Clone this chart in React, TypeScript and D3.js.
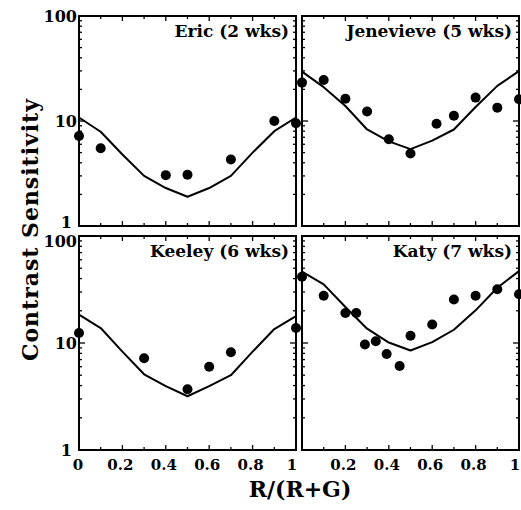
import React from "react";
import * as d3 from "d3";

const modelX = [0, 0.1, 0.2, 0.3, 0.4, 0.5, 0.6, 0.7, 0.8, 0.9, 1.0];

const ericX = [0, 0.1, 0.4, 0.5, 0.7, 0.9, 1.0];
const ericY = [7.2, 5.5, 3.05, 3.08, 4.3, 10.0, 9.5];
const ericModel = [10.8, 7.9, 4.8, 3.0, 2.3, 1.9, 2.3, 3.0, 5.0, 8.0, 10.8];

const jenX = [0, 0.1, 0.2, 0.3, 0.4, 0.5, 0.62, 0.7, 0.8, 0.9, 1.0];
const jenY = [23.2, 24.6, 16.3, 12.3, 6.7, 4.9, 9.4, 11.2, 16.7, 13.4, 16.1];
const jenModel = [29.5, 21, 13.9, 8.3, 6.4, 5.4, 6.5, 8.3, 13.6, 21.6, 29.9];

const keeX = [0, 0.3, 0.5, 0.6, 0.7, 1.0];
const keeY = [12.4, 7.2, 3.7, 6.0, 8.2, 13.8];
const keeModel = [18.4, 13.8, 8.3, 5.1, 3.96, 3.18, 3.96, 5.0, 8.3, 13.5, 17.8];

const katX = [0, 0.1, 0.2, 0.25, 0.29, 0.34, 0.39, 0.45, 0.5, 0.6, 0.7, 0.8, 0.9, 1.0];
const katY = [41.6, 27.6, 19.1, 19.1, 9.7, 10.4, 7.9, 6.1, 11.7, 14.9, 25.5, 27.6, 31.8, 28.6];
const katModel = [46.4, 35.3, 21.7, 13.6, 10.1, 8.5, 10.2, 13.3, 20.2, 32.8, 47];

const titles = ["Eric (2 wks)", "Jenevieve (5 wks)", "Keeley (6 wks)", "Katy (7 wks)"];
const xTickValues = [0, 0.1, 0.2, 0.3, 0.4, 0.5, 0.6, 0.7, 0.8, 0.9, 1.0];
const xTickLabels = ["0", "", "0.2", "", "0.4", "", "0.6", "", "0.8", "", "1"];
const yTickLabels = ["1", "10", "100"];
const yTickValues = [1, 10, 100];

const FONT = "'DejaVu Serif', serif";

type PanelDef = {
  x0: number; x1: number; y0: number; y1: number;
  px: number[]; py: number[]; model: number[]; title: string;
  showY: boolean; showX: boolean; lastShift: number; topShift: number; botShift: number;
};

const panels: PanelDef[] = [
  { x0: 79, x1: 296, y0: 16, y1: 226, px: ericX, py: ericY, model: ericModel, title: titles[0], showY: true, showX: false, lastShift: 0, topShift: 0, botShift: -4 },
  { x0: 302, x1: 519, y0: 16, y1: 226, px: jenX, py: jenY, model: jenModel, title: titles[1], showY: false, showX: false, lastShift: 0, topShift: 0, botShift: 0 },
  { x0: 79, x1: 296, y0: 236, y1: 450, px: keeX, py: keeY, model: keeModel, title: titles[2], showY: true, showX: true, lastShift: -4, topShift: 5, botShift: 0 },
  { x0: 302, x1: 519, y0: 236, y1: 450, px: katX, py: katY, model: katModel, title: titles[3], showY: false, showX: true, lastShift: -4, topShift: 0, botShift: 0 },
];

function Panel({ p }: { p: PanelDef }) {
  const x = d3.scaleLinear().domain([0, 1]).range([p.x0, p.x1]);
  const y = d3.scaleLog().domain([1, 100]).range([p.y1, p.y0]);
  const line = d3.line<number>().x((_, i) => x(modelX[i])).y((d) => y(d));
  const minor: number[] = [];
  [1, 10].forEach((b) => { for (let k = 2; k <= 9; k++) minor.push(b * k); });
  const ticks: JSX.Element[] = [];
  xTickValues.forEach((v, i) => {
    const len = i % 2 === 0 ? 5 : 3;
    const xx = x(v);
    ticks.push(<line key={"xb" + i} x1={xx} x2={xx} y1={p.y1} y2={p.y1 - len} />);
    ticks.push(<line key={"xt" + i} x1={xx} x2={xx} y1={p.y0} y2={p.y0 + len} />);
  });
  minor.forEach((v, i) => {
    const yy = y(v);
    ticks.push(<line key={"yl" + i} x1={p.x0} x2={p.x0 + 3} y1={yy} y2={yy} />);
    ticks.push(<line key={"yr" + i} x1={p.x1} x2={p.x1 - 3} y1={yy} y2={yy} />);
  });
  const y10 = y(10);
  ticks.push(<line key="yl10" x1={p.x0} x2={p.x0 + 6} y1={y10} y2={y10} />);
  ticks.push(<line key="yr10" x1={p.x1} x2={p.x1 - 6} y1={y10} y2={y10} />);

  return (
    <g>
      <g stroke="#000" strokeWidth={1.3}>{ticks}</g>
      <rect x={p.x0} y={p.y0} width={p.x1 - p.x0} height={p.y1 - p.y0} fill="none" stroke="#000" strokeWidth={2} />
      <path d={line(p.model) || ""} fill="none" stroke="#000" strokeWidth={2} strokeLinejoin="round" />
      {p.px.map((v, i) => (
        <circle key={i} cx={x(v)} cy={y(p.py[i])} r={5} fill="#000" />
      ))}
      <text x={p.x1 - 7} y={p.y0 + 21} textAnchor="end" fontFamily={FONT} fontWeight="bold" fontSize={17}>{p.title}</text>
      {p.showY && yTickValues.map((v, i) => {
        const off = i === 0 ? p.botShift : i === 2 ? p.topShift : 0;
        return (
          <text key={"yt" + i} x={i === 0 ? 72 : 77} y={y(v) + off} dy="0.36em" textAnchor="end"
            fontFamily={FONT} fontWeight="bold" fontSize={16}>{yTickLabels[i]}</text>
        );
      })}
      {p.showX && xTickValues.map((v, i) => {
        if (!xTickLabels[i]) return null;
        if (p.x0 > 100 && i === 0) return null;
        const shift = i === xTickValues.length - 1 ? p.lastShift : (i === 0 ? -1 : -2);
        return (
          <text key={"xl" + i} x={x(v) + shift} y={470} textAnchor="middle" fontFamily={FONT} fontWeight="bold" fontSize={15}>{xTickLabels[i]}</text>
        );
      })}
    </g>
  );
}

export default function App() {
  return (
    <svg width={521} height={510} style={{ position: "absolute", left: 0, top: 0, background: "#fff" }}>
      <rect x={0} y={0} width={521} height={510} fill="#fff" />
      {panels.map((p, i) => <Panel key={i} p={p} />)}
      <text transform="translate(38,230) rotate(-90)" textAnchor="middle" fontFamily={FONT} fontWeight="bold" fontSize={22}
        textLength={262} lengthAdjust="spacing">Contrast Sensitivity</text>
      <text x={300} y={497} textAnchor="middle" fontFamily={FONT} fontWeight="bold" fontSize={22}>R/(R+G)</text>
    </svg>
  );
}
